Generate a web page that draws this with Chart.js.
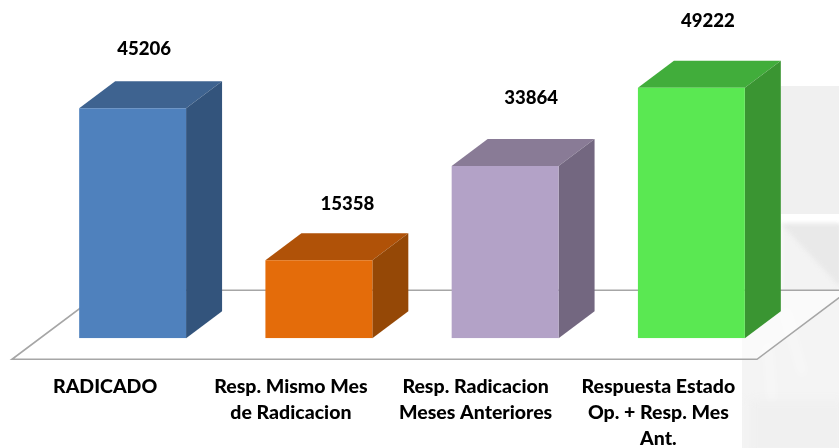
<!DOCTYPE html>
<html><head><meta charset="utf-8">
<style>html,body{margin:0;padding:0;background:#fff}#w{width:839px;height:448px;position:relative}canvas{display:block}</style>
<script src="https://cdn.jsdelivr.net/npm/chart.js@4"></script></head>
<body><div id="w"><canvas id="c" width="839" height="448"></canvas></div>
<script>
const categories = [["RADICADO"],["Resp. Mismo Mes","de Radicacion"],["Resp. Radicacion","Meses Anteriores"],["Respuesta Estado","Op. + Resp. Mes","Ant."]];
const values = [45206,15358,33864,49222];
const frontColors = ["#4f81bd","#e46c0a","#b3a2c7","#5ae852"];
const topColors = ["#3e6390","#b05208","#897b96","#41ad3b"];
const sideColors = ["#33547c","#954806","#736780","#3a9532"];
const labelShiftX = [11.5,28.5,26,16.5];
const labelLift = [59,56,68,67];
const tickShiftX = [-27.5,-28,-29.5,-33];
const DX=36, DY=27;

const scene = {
  id:'scene',
  beforeDraw(ch){
    ch.scales.x.getLabelItems().forEach((it,i)=>{
      if(!it._moved){it.options.translation[0]+=tickShiftX[i];it._moved=true;}
    });
  },
  beforeDatasetsDraw(ch){
    const c=ch.ctx, y=ch.scales.y;
    const base=y.getPixelForValue(0);
    c.save();
    // faint watermark behind the chart
    c.fillStyle='#f0f0f0'; c.fillRect(781,86,58,128);
    c.save(); c.filter='blur(2px)';
    c.fillStyle='#f3f3f3'; c.fillRect(781,224,60,70);
    c.fillStyle='#e9e9e9'; c.beginPath(); c.moveTo(781,224); c.lineTo(841,224); c.lineTo(841,288); c.closePath(); c.fill();
    c.restore();
    c.fillStyle='#f4f4f4'; c.fillRect(742,290,97,158);
    c.save(); c.filter='blur(4px)';
    c.fillStyle='#f0f0f0'; c.fillRect(750,400,95,55);
    c.strokeStyle='rgba(255,255,255,0.55)'; c.lineWidth=5;
    c.beginPath(); c.moveTo(785,310); c.lineTo(803,375); c.moveTo(768,345); c.lineTo(772,400); c.stroke();
    c.restore();
    // floor
    const fx=[12,757,849,104], fy=[base+21,base+21,base-48,base-48];
    c.fillStyle='rgba(255,255,255,0.55)';
    c.beginPath(); fx.forEach((x,i)=>i?c.lineTo(x,fy[i]):c.moveTo(x,fy[i])); c.closePath(); c.fill();
    c.strokeStyle='#a6a6a6'; c.lineWidth=1.6;
    c.beginPath();
    c.moveTo(847,base-48); c.lineTo(104,base-48); c.lineTo(12,base+21); c.lineTo(757,base+21); c.lineTo(849,base-48);
    c.stroke();
    c.restore();
    // 3D faces
    const m=ch.getDatasetMeta(0);
    m.data.forEach((b,i)=>{
      const l=b.x-b.width/2, r=b.x+b.width/2, t=b.y, bt=b.base;
      c.fillStyle=topColors[i]; c.beginPath(); c.moveTo(l,t); c.lineTo(l+DX,t-DY); c.lineTo(r+DX,t-DY); c.lineTo(r,t); c.closePath(); c.fill();
      c.fillStyle=sideColors[i]; c.beginPath(); c.moveTo(r,t); c.lineTo(r+DX,t-DY); c.lineTo(r+DX,bt-DY); c.lineTo(r,bt); c.closePath(); c.fill();
    });
  },
  afterDatasetsDraw(ch){
    const c=ch.ctx, m=ch.getDatasetMeta(0);
    c.save(); c.fillStyle='#000'; c.font='900 18.6px Lato'; c.textAlign='center'; c.textBaseline='middle';
    m.data.forEach((b,i)=>c.fillText(String(values[i]),b.x+labelShiftX[i],b.y-labelLift[i]));
    c.restore();
  }
};

new Chart(document.getElementById('c'),{
  type:'bar',
  data:{labels:categories,datasets:[{data:values,backgroundColor:frontColors,barPercentage:0.574,categoryPercentage:1}]},
  plugins:[scene],
  options:{
    responsive:false,animation:false,
    layout:{padding:{left:39.5,right:54.5,top:33,bottom:0}},
    plugins:{legend:{display:false},tooltip:{enabled:false}},
    scales:{
      y:{display:false,min:0,max:60000},
      x:{grid:{display:false},border:{display:false},
        afterFit(s){s.height=109.7;},
        ticks:{color:'#000',font:{family:'Lato',weight:'900',size:19.5,lineHeight:1.32},padding:28,maxRotation:0,autoSkip:false}}
    }
  }
});
</script></body></html>
